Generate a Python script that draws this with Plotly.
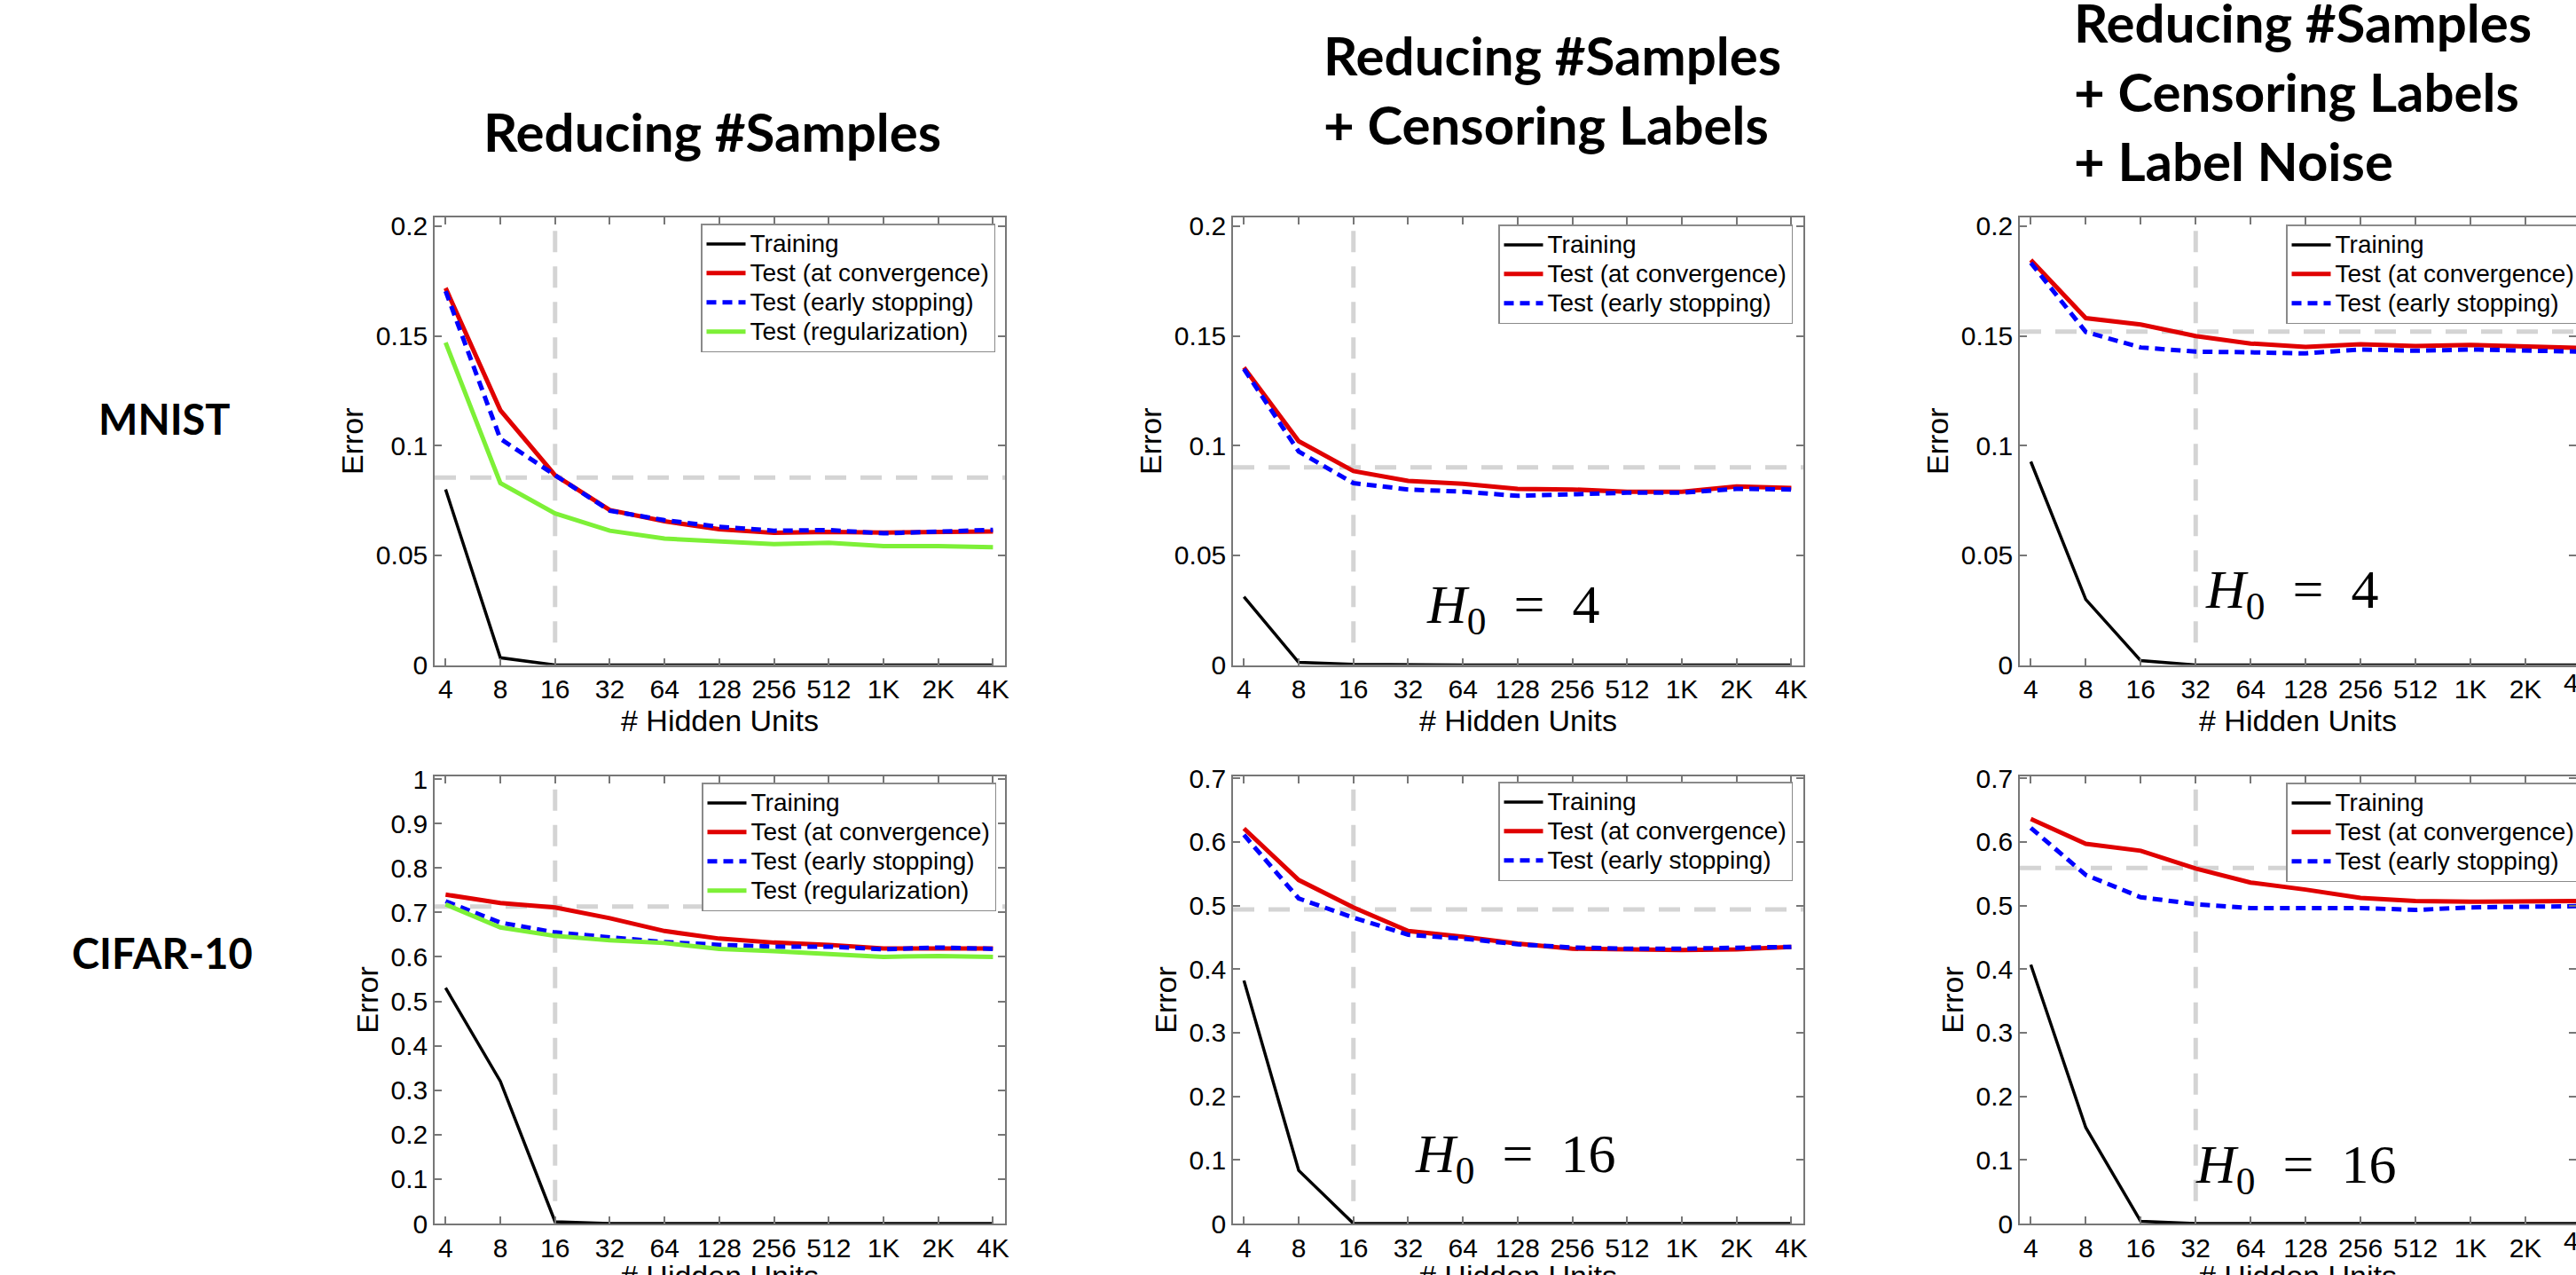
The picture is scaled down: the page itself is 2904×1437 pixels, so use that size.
import math
import plotly.graph_objects as go

W, H = 2904, 1437

# ---------------- data ----------------
units = [4, 8, 16, 32, 64, 128, 256, 512, 1024, 2048, 4096]
unit_labels = ["4", "8", "16", "32", "64", "128", "256", "512", "1K", "2K", "4K"]

series_names = ["Training", "Test (at convergence)", "Test (early stopping)", "Test (regularization)"]

col_titles = ["Reducing #Samples",
              "Reducing #Samples<br>+ Censoring Labels",
              "Reducing #Samples<br>+ Censoring Labels<br>+ Label Noise"]
row_titles = ["MNIST", "CIFAR-10"]
x_title = "# Hidden Units"
y_title = "Error"

# MNIST - reducing #samples
mnist_a_train = [0.080, 0.0033, 0.0, 0.0, 0.0, 0.0, 0.0, 0.0, 0.0, 0.0, 0.0]
mnist_a_conv = [0.1718, 0.1161, 0.0865, 0.0706, 0.0655, 0.0619, 0.0602, 0.0607, 0.0604, 0.0604, 0.0609]
mnist_a_early = [0.1704, 0.1031, 0.0865, 0.0703, 0.0660, 0.0630, 0.0612, 0.0615, 0.0600, 0.0607, 0.0616]
mnist_a_reg = [0.1469, 0.0829, 0.0691, 0.0612, 0.0576, 0.0561, 0.0551, 0.0557, 0.0542, 0.0542, 0.0537]
mnist_a_ref = (16, 0.0854)

# MNIST - + censoring labels
mnist_b_train = [0.0311, 0.0012, 0.0003, 0.0, 0.0, 0.0, 0.0, 0.0, 0.0, 0.0, 0.0]
mnist_b_conv = [0.1356, 0.1020, 0.0884, 0.0839, 0.0826, 0.0803, 0.0800, 0.0790, 0.0790, 0.0814, 0.0807]
mnist_b_early = [0.1349, 0.0973, 0.0829, 0.0800, 0.0790, 0.0771, 0.0778, 0.0785, 0.0785, 0.0803, 0.0800]
mnist_b_ref = (16, 0.0901)

# MNIST - + label noise
mnist_c_train = [0.0927, 0.0299, 0.0020, 0.0, 0.0, 0.0, 0.0, 0.0, 0.0, 0.0, 0.0]
mnist_c_conv = [0.1846, 0.1581, 0.1552, 0.1499, 0.1465, 0.1450, 0.1462, 0.1454, 0.1459, 0.1454, 0.1445]
mnist_c_early = [0.1833, 0.1518, 0.1447, 0.1428, 0.1425, 0.1420, 0.1438, 0.1432, 0.1438, 0.1435, 0.1428]
mnist_c_ref = (32, 0.1519)

# CIFAR-10 - reducing #samples
cifar_a_train = [0.530, 0.320, 0.004, 0.0, 0.0, 0.0, 0.0, 0.0, 0.0, 0.0, 0.0]
cifar_a_conv = [0.740, 0.721, 0.711, 0.687, 0.658, 0.641, 0.632, 0.627, 0.619, 0.619, 0.619]
cifar_a_early = [0.725, 0.677, 0.655, 0.643, 0.633, 0.627, 0.623, 0.623, 0.617, 0.621, 0.618]
cifar_a_reg = [0.718, 0.666, 0.647, 0.637, 0.631, 0.618, 0.613, 0.606, 0.600, 0.602, 0.600]
cifar_a_ref = (16, 0.713)

# CIFAR-10 - + censoring labels
cifar_b_train = [0.382, 0.0835, 0.0, 0.0, 0.0, 0.0, 0.0, 0.0, 0.0, 0.0, 0.0]
cifar_b_conv = [0.621, 0.540, 0.497, 0.460, 0.451, 0.440, 0.432, 0.431, 0.430, 0.431, 0.435]
cifar_b_early = [0.611, 0.511, 0.481, 0.454, 0.448, 0.439, 0.434, 0.432, 0.432, 0.434, 0.435]
cifar_b_ref = (16, 0.4937)

# CIFAR-10 - + label noise
cifar_c_train = [0.407, 0.151, 0.0034, 0.0, 0.0, 0.0, 0.0, 0.0, 0.0, 0.0, 0.0]
cifar_c_conv = [0.636, 0.597, 0.586, 0.558, 0.536, 0.525, 0.512, 0.507, 0.506, 0.506, 0.507]
cifar_c_early = [0.622, 0.548, 0.513, 0.502, 0.496, 0.496, 0.496, 0.493, 0.497, 0.498, 0.499]
cifar_c_ref = (32, 0.559)

mnist_yticks = [0, 0.05, 0.1, 0.15, 0.2]
cifar_yticks_a = [0, 0.1, 0.2, 0.3, 0.4, 0.5, 0.6, 0.7, 0.8, 0.9, 1.0]
cifar_yticks_b = [0, 0.1, 0.2, 0.3, 0.4, 0.5, 0.6, 0.7]

h0_labels = [None, "4", "4", None, "16", "16"]

panels = [
    dict(series=[mnist_a_train, mnist_a_conv, mnist_a_early, mnist_a_reg], ref=mnist_a_ref, yticks=mnist_yticks, ymax=0.204),
    dict(series=[mnist_b_train, mnist_b_conv, mnist_b_early], ref=mnist_b_ref, yticks=mnist_yticks, ymax=0.204),
    dict(series=[mnist_c_train, mnist_c_conv, mnist_c_early], ref=mnist_c_ref, yticks=mnist_yticks, ymax=0.204),
    dict(series=[cifar_a_train, cifar_a_conv, cifar_a_early, cifar_a_reg], ref=cifar_a_ref, yticks=cifar_yticks_a, ymax=1.006),
    dict(series=[cifar_b_train, cifar_b_conv, cifar_b_early], ref=cifar_b_ref, yticks=cifar_yticks_b, ymax=0.703),
    dict(series=[cifar_c_train, cifar_c_conv, cifar_c_early], ref=cifar_c_ref, yticks=cifar_yticks_b, ymax=0.703),
]

# ---------------- styles / layout geometry (px) ----------------
line_styles = [
    dict(color="#000000", width=3.5),
    dict(color="#e00000", width=5),
    dict(color="#0000ff", width=5, dash="11px,7px"),
    dict(color="rgb(125,240,55)", width=5),
]
REF_COLOR = "#d4d4d4"
SPINE = "#777777"
SANS = "Liberation Sans, Arial, sans-serif"
TICK_FONT = dict(family=SANS, size=30, color="black")
TITLE_FONT = dict(family=SANS, size=34, color="black")
LEG_FONT = dict(family=SANS, size=23, color="black")
LEG_TEXT_PX = 28
TITLE_BOLD = dict(family="Lato, sans-serif", size=60, color="black")
ROW_BOLD = dict(family="Lato, sans-serif", size=47, color="black")
MATH_FONT = dict(family="Liberation Serif, DejaVu Serif, serif", size=62, color="black")

col_px = [(490, 1133), (1390, 2033), (2277, W)]
row_px = [(245, 749.5), (875, 1379)]
leg_px = [(790, 252), (1689, 253), (2577, 253), (791, 882), (1689, 881), (2577, 882)]
h0_px = [None, (1705, 685), (2583, 668), None, (1708, 1304), (2588, 1316)]
x_title_gap = 59  # px between axis bottom and centre of the x title

L2 = math.log10(2)
x_ranges = [
    [math.log10(units[0]) - 0.20 * L2, math.log10(units[-1]) + 0.22 * L2],
    [math.log10(units[0]) - 0.20 * L2, math.log10(units[-1]) + 0.22 * L2],
    [math.log10(units[0]) - 0.20 * L2, math.log10(units[0]) + 9.92 * L2],
]


def px_x(v):
    return v / W


def px_y(v):
    return 1 - v / H


fig = go.Figure()
layout = dict(
    width=W, height=H,
    margin=dict(l=0, r=0, t=0, b=0, pad=0, autoexpand=False),
    paper_bgcolor="white", plot_bgcolor="white",
    font=dict(family=SANS, color="black"),
    showlegend=True,
)
shapes = []
annotations = []

for i, p in enumerate(panels):
    k = i + 1
    r, c = divmod(i, 3)
    xa = "x" if k == 1 else f"x{k}"
    ya = "y" if k == 1 else f"y{k}"
    leg = "legend" if k == 1 else f"legend{k}"
    for s, vals in enumerate(p["series"]):
        fig.add_trace(go.Scatter(
            x=units, y=vals, mode="lines",
            name=f'<span style="font-size:{LEG_TEXT_PX}px">{series_names[s]}</span>',
            line=line_styles[s], xaxis=xa, yaxis=ya, legend=leg,
            hoverinfo="skip"))
    x0, x1 = col_px[c]
    y0, y1 = row_px[r]
    xaxis = dict(
        type="log", domain=[px_x(x0), px_x(x1)], range=x_ranges[c], anchor=ya,
        tickvals=units, ticktext=unit_labels, ticks="inside", ticklen=8, tickwidth=1.5,
        tickcolor=SPINE, showline=True, linecolor=SPINE, linewidth=1.5, mirror="ticks",
        showgrid=False, zeroline=False, tickfont=TICK_FONT, automargin=False)
    if r == 0:
        xaxis["title"] = dict(text=x_title, font=TITLE_FONT, standoff=0)
    else:
        # bottom row: the x title runs off the lower edge of the picture
        annotations.append(dict(
            text=x_title, xref=f"{xa} domain", x=0.5, yref="paper", y=px_y(y1 + x_title_gap),
            xanchor="center", yanchor="middle", showarrow=False, font=TITLE_FONT))
    layout["xaxis" if k == 1 else f"xaxis{k}"] = xaxis
    layout["yaxis" if k == 1 else f"yaxis{k}"] = dict(
        domain=[px_y(y1), px_y(y0)], range=[0, p["ymax"]], anchor=xa,
        tickvals=p["yticks"], ticktext=[f"{v:g}" for v in p["yticks"]],
        ticks="inside", ticklen=8, tickwidth=1.5, tickcolor=SPINE,
        showline=True, linecolor=SPINE, linewidth=1.5, mirror="ticks",
        showgrid=False, zeroline=False, tickfont=TICK_FONT, automargin=False,
        title=dict(text=y_title, font=TITLE_FONT, standoff=4))
    lx, ly = leg_px[i]
    layout[leg] = dict(
        x=px_x(lx), y=px_y(ly), xanchor="left", yanchor="top",
        bgcolor="white", bordercolor="#8a8a8a", borderwidth=1.5,
        font=LEG_FONT, itemwidth=44, traceorder="normal", tracegroupgap=0)
    h0_units, ref_err = p["ref"]
    shapes.append(dict(type="line", xref=f"{xa} domain", x0=0, x1=1, yref=ya,
                       y0=ref_err, y1=ref_err, layer="below",
                       line=dict(color=REF_COLOR, width=5, dash="24px,16px")))
    shapes.append(dict(type="line", xref=xa, x0=h0_units, x1=h0_units,
                       yref=f"{ya} domain", y0=0.05, y1=1, layer="below",
                       line=dict(color=REF_COLOR, width=5, dash="24px,16px")))
    if h0_labels[i]:
        hx, hy = h0_px[i]
        annotations.append(dict(
            text="<i>H</i><sub>0</sub>\u2002=\u2002" + h0_labels[i],
            xref="paper", yref="paper", x=px_x(hx), y=px_y(hy),
            xanchor="center", yanchor="middle", showarrow=False, font=MATH_FONT))

# partially visible last tick label of the clipped right column
for r in range(2):
    k = 3 + 3 * r
    c0, c1 = col_px[2]
    rx0, rx1 = x_ranges[2]
    frac = (math.log10(units[-1]) - rx0) / (rx1 - rx0)
    xp = px_x(c0) + frac * (px_x(c1) - px_x(c0))
    annotations.append(dict(
        text=unit_labels[-1], xref="paper", yref=f"y{k} domain", x=xp, y=0,
        xanchor="center", yanchor="top", yshift=-1, showarrow=False, font=TICK_FONT))

# column titles
annotations.append(dict(text="<b>" + col_titles[0] + "</b>", xref="paper", yref="paper",
                        x=px_x(803), y=px_y(148), xanchor="center", yanchor="middle",
                        showarrow=False, font=TITLE_BOLD))
annotations.append(dict(text="<b>" + col_titles[1] + "</b>", xref="paper", yref="paper",
                        x=px_x(1490), y=px_y(101), xanchor="left", yanchor="middle", align="left",
                        showarrow=False, font=TITLE_BOLD))
annotations.append(dict(text="<b>" + col_titles[2] + "</b>", xref="paper", yref="paper",
                        x=px_x(2336), y=px_y(103), xanchor="left", yanchor="middle", align="left",
                        showarrow=False, font=TITLE_BOLD))
# row titles
annotations.append(dict(text="<b>" + row_titles[0] + "</b>", xref="paper", yref="paper",
                        x=px_x(185), y=px_y(472), xanchor="center", yanchor="middle",
                        showarrow=False, font=ROW_BOLD))
annotations.append(dict(text="<b>" + row_titles[1] + "</b>", xref="paper", yref="paper",
                        x=px_x(183), y=px_y(1074), xanchor="center", yanchor="middle",
                        showarrow=False, font=ROW_BOLD))

layout["shapes"] = shapes
layout["annotations"] = annotations
fig.update_layout(**layout)

fig.write_html("out.html", config={"displayModeBar": False},
               post_script="document.body.style.margin='0';document.body.style.overflow='hidden';")
